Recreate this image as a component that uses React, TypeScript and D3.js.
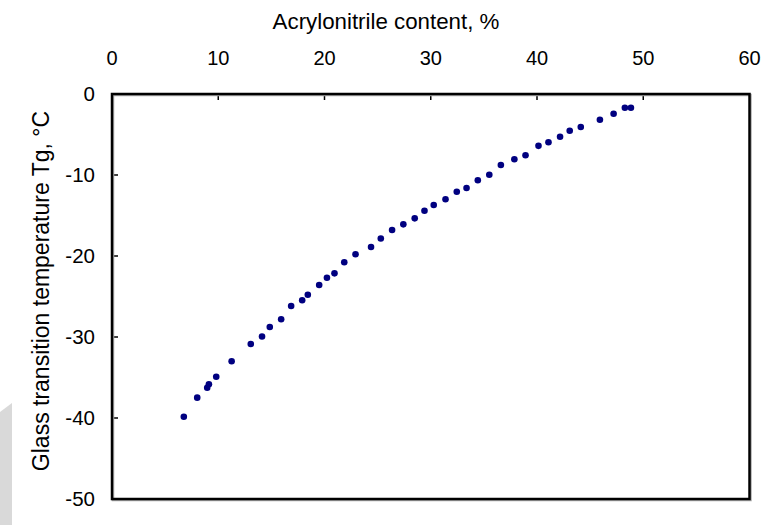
import React from "react";
import * as d3 from "d3";

const acrylonitrile = [6.76, 8.02, 8.96, 9.12, 9.81, 11.26, 13.06, 14.12, 14.85, 15.92, 16.86, 17.9, 18.43, 19.5, 20.23, 20.94, 21.86, 22.92, 24.38, 25.3, 26.36, 27.42, 28.49, 29.41, 30.28, 31.39, 32.45, 33.37, 34.43, 35.51, 36.6, 37.87, 38.92, 40.14, 41.08, 42.17, 43.08, 44.12, 45.92, 47.21, 48.27, 48.84];
const tg = [-39.84, -37.49, -36.26, -35.84, -34.9, -33.0, -30.86, -29.94, -28.77, -27.8, -26.17, -25.47, -24.78, -23.58, -22.68, -22.14, -20.78, -19.79, -18.89, -17.84, -16.79, -16.09, -15.35, -14.41, -13.7, -13.0, -12.06, -11.6, -10.65, -9.96, -8.77, -8.06, -7.57, -6.4, -5.96, -5.27, -4.53, -4.07, -3.17, -2.43, -1.69, -1.69];
const xTicks = [0, 10, 20, 30, 40, 50, 60];
const yTicks = [0, -10, -20, -30, -40, -50];

const W = 779;
const H = 525;
const L = 112, R = 749.5, T = 94, B = 499;

export default function App() {
  const x = d3.scaleLinear().domain([0, 60]).range([L, R]);
  const y = d3.scaleLinear().domain([0, -50]).range([T, B]);
  const font = "Arial, 'Liberation Sans', sans-serif";
  return (
    <svg width={W} height={H} style={{ position: "absolute", left: 0, top: 0, background: "#fff" }}>
      <polygon points="0,412 12,403 12,525 0,525" fill="#d9d9d9" />
      <text x={386} y={29} textAnchor="middle" fontFamily={font} fontSize={22.3} fill="#000">Acrylonitrile content, %</text>
      <text transform={`translate(49,291) rotate(-90)`} textAnchor="middle" fontFamily={font} fontSize={23} fill="#000">Glass transition temperature Tg, °C</text>
      {xTicks.map((t) => (
        <g key={"x" + t}>
          <text x={x(t)} y={65} textAnchor="middle" fontFamily={font} fontSize={20} fill="#000">{t}</text>
          {t > 0 && t < 60 && <line x1={x(t)} x2={x(t)} y1={T} y2={T + 6} stroke="#000" strokeWidth={1.5} />}
        </g>
      ))}
      {yTicks.map((t) => (
        <g key={"y" + t}>
          <text x={95} y={y(t)} dy="0.35em" textAnchor="end" fontFamily={font} fontSize={20.5} fill="#000">{t}</text>
          {t < 0 && t > -50 && <line x1={L} x2={L + 6} y1={y(t)} y2={y(t)} stroke="#000" strokeWidth={1.5} />}
        </g>
      ))}
      <rect x={L + 1} y={T + 1} width={R - L} height={B - T} fill="none" stroke="#aaa" strokeWidth={2.5} />
      <rect x={L} y={T} width={R - L} height={B - T} fill="none" stroke="#000" strokeWidth={2.5} />
      {acrylonitrile.map((v, i) => (
        <circle key={i} cx={x(v)} cy={y(tg[i])} r={3.3} fill="#000080" />
      ))}
    </svg>
  );
}
